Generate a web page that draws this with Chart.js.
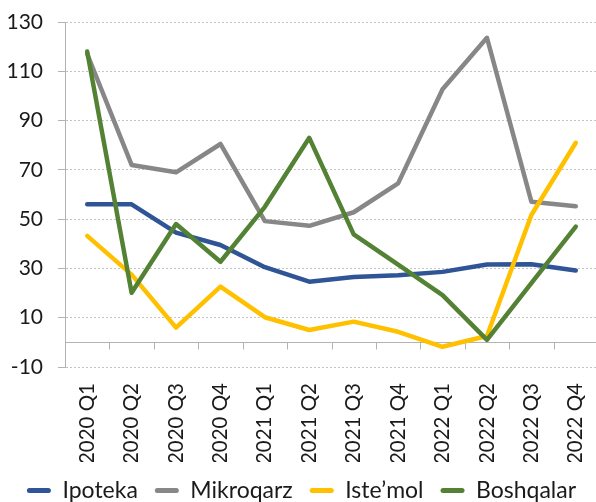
<!DOCTYPE html>
<html>
<head>
<meta charset="utf-8">
<script src="https://cdn.jsdelivr.net/npm/chart.js@4"></script>
<style>
  html, body { margin: 0; padding: 0; overflow: hidden; background: #ffffff; }
  #wrap { position: relative; width: 600px; height: 502px; }
</style>
</head>
<body>
<div id="wrap"><canvas id="chart"></canvas></div>
<script>
// Quarterly categories
const categories = ['2020 Q1', '2020 Q2', '2020 Q3', '2020 Q4',
                    '2021 Q1', '2021 Q2', '2021 Q3', '2021 Q4',
                    '2022 Q1', '2022 Q2', '2022 Q3', '2022 Q4'];

// Series values
const ipoteka    = [56, 56, 44.5, 39.5, 30.5, 24.6, 26.5, 27.2, 28.6, 31.6, 31.7, 29.2];
const mikroqarz  = [117, 72, 69, 80.5, 49.2, 47.3, 52.8, 64.5, 102.7, 123.6, 57.1, 55.2];
const istemol    = [43.2, 27.5, 6, 22.6, 10.2, 5, 8.4, 4.3, -1.8, 2.6, 51.7, 81];
const boshqalar  = [118, 20.1, 48, 32.7, 55, 83, 43.8, 31.5, 19.2, 1, 24, 47];

// Value axis range
const yMin = -10;
const yMax = 130;
const yStep = 20;

const FONT = 'Lato';
const TEXT = '#1a1a1a';

// Solid axis line at zero with tick marks between categories
const zeroAxis = {
  id: 'zeroAxis',
  beforeDatasetsDraw(chart) {
    const { ctx, chartArea, scales: { x, y } } = chart;
    const y0 = Math.round(y.getPixelForValue(0)) + 0.5;
    const step = x.getPixelForValue(1) - x.getPixelForValue(0);
    ctx.save();
    ctx.strokeStyle = '#b3b3b3';
    ctx.lineWidth = 1;
    ctx.beginPath();
    ctx.moveTo(chartArea.left, y0);
    ctx.lineTo(chartArea.right, y0);
    for (let i = 1; i <= categories.length; i++) {
      const px = Math.round(x.getPixelForValue(i) - step / 2) + 0.5;
      ctx.moveTo(px, y0);
      ctx.lineTo(px, y0 + 7);
    }
    ctx.stroke();
    ctx.restore();
  }
};

function series(label, data, color, order) {
  return {
    label, data, order,
    borderColor: color,
    backgroundColor: color,
    borderWidth: 4.5,
    borderCapStyle: 'round',
    borderJoinStyle: 'round',
    pointRadius: 0,
    pointHoverRadius: 0,
    tension: 0,
    fill: false
  };
}

new Chart(document.getElementById('chart'), {
  type: 'line',
  data: {
    labels: categories,
    datasets: [
      series('Ipoteka', ipoteka, '#2f5597', 4),
      series('Mikroqarz', mikroqarz, '#878787', 3),
      series('Iste\u2019mol', istemol, '#ffc000', 2),
      series('Boshqalar', boshqalar, '#548235', 1)
    ]
  },
  options: {
    responsive: true,
    maintainAspectRatio: false,
    devicePixelRatio: 1,
    animation: false,
    layout: { padding: { left: 5, top: 22, right: 2, bottom: 0 } },
    plugins: {
      tooltip: { enabled: false },
      legend: {
        position: 'bottom',
        align: 'center',
        maxHeight: 40,
        labels: {
          font: { family: FONT, size: 23 },
          color: TEXT,
          boxWidth: 24,
          boxHeight: 5,
          padding: 17,
          useBorderRadius: true,
          borderRadius: 2.5,
          generateLabels(chart) {
            return chart.data.datasets.map((ds, i) => ({
              text: ds.label,
              fillStyle: ds.borderColor,
              strokeStyle: ds.borderColor,
              lineWidth: 0,
              hidden: false,
              datasetIndex: i,
              borderRadius: 2.5,
              fontColor: TEXT
            }));
          }
        }
      }
    },
    scales: {
      x: {
        offset: true,
        grid: { display: false, drawTicks: false },
        border: { display: false },
        ticks: {
          autoSkip: false,
          minRotation: 90,
          maxRotation: 90,
          padding: 16,
          color: TEXT,
          font: { family: FONT, size: 20.5 }
        },
        afterFit(scale) {
          scale.height = 95;
          scale.paddingLeft = 0;
          scale.paddingRight = 0;
        }
      },
      y: {
        min: yMin,
        max: yMax,
        ticks: {
          stepSize: yStep,
          padding: 15,
          color: TEXT,
          font: { family: FONT, size: 21 }
        },
        grid: {
          color: '#c4c4c4',
          lineWidth: 1,
          tickLength: 7,
          tickColor: '#b3b3b3',
          tickBorderDash: []
        },
        border: { display: true, color: '#b3b3b3', width: 1, dash: [2, 2] },
        afterFit(scale) {
          scale.width = 60;
          scale.paddingTop = 0;
          scale.paddingBottom = 0;
        }
      }
    }
  },
  plugins: [zeroAxis]
});
</script>
</body>
</html>
